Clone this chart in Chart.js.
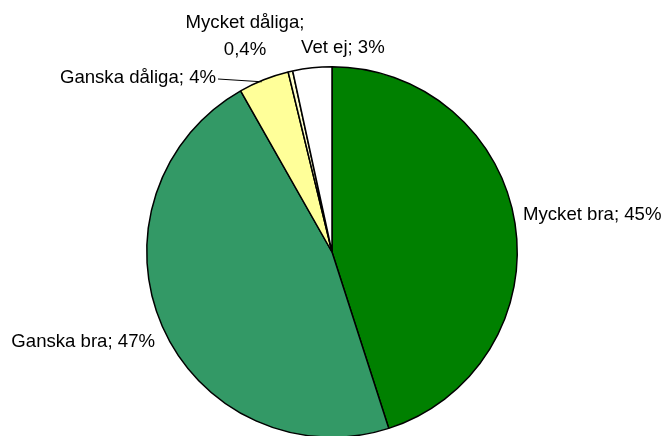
<!DOCTYPE html>
<html>
<head>
<meta charset="utf-8">
<script src="https://cdn.jsdelivr.net/npm/chart.js@4/dist/chart.umd.min.js"></script>
<style>
html,body{margin:0;padding:0;background:#fff;overflow:hidden;}
#wrap{position:relative;width:667px;height:440px;}
</style>
</head>
<body>
<div id="wrap"><canvas id="c" width="667" height="440"></canvas></div>
<script>
const categories = ["Mycket bra", "Ganska bra", "Ganska dåliga", "Mycket dåliga", "Vet ej"];
const values = [45, 46.7, 4.4, 0.4, 3.4];
const colors = ["#008000", "#339966", "#FFFF99", "#FFFFCC", "#FFFFFF"];

function fmt(v){
  const s = v >= 1 ? String(Math.round(v)) : v.toFixed(1).replace('.', ',');
  return s + '%';
}

// label layout: anchor point, alignment, optional line break, optional leader
const labelLayout = [
  {x: 523, y: 215, align: 'left'},
  {x: 155, y: 342, align: 'right'},
  {x: 216, y: 78, align: 'right', leader: true},
  {x: 245, y: 23, align: 'center', split: true, dy: 27},
  {x: 301, y: 48, align: 'left'}
];

const labelPlugin = {
  id: 'pieLabels',
  afterDatasetsDraw(chart){
    const ctx = chart.ctx;
    const meta = chart.getDatasetMeta(0);
    ctx.save();
    ctx.font = '18.6px "Liberation Sans", Arial, sans-serif';
    ctx.fillStyle = '#000';
    ctx.textBaseline = 'middle';
    categories.forEach((name, i) => {
      const L = labelLayout[i];
      ctx.textAlign = L.align;
      if (L.split){
        ctx.fillText(name + ';', L.x, L.y);
        ctx.fillText(fmt(values[i]), L.x, L.y + L.dy);
      } else {
        ctx.fillText(name + '; ' + fmt(values[i]), L.x, L.y);
      }
      if (L.leader){
        const arc = meta.data[i];
        const mid = (arc.startAngle + arc.endAngle) / 2;
        const ex = arc.x + Math.cos(mid) * arc.outerRadius;
        const ey = arc.y + Math.sin(mid) * arc.outerRadius;
        ctx.beginPath();
        ctx.lineWidth = 1;
        ctx.strokeStyle = '#000';
        ctx.moveTo(L.x + 2, L.y + 1);
        ctx.lineTo(ex - 2, ey + 2);
        ctx.stroke();
      }
    });
    ctx.restore();
  }
};

new Chart(document.getElementById('c'), {
  type: 'pie',
  data: {
    labels: categories,
    datasets: [{
      data: values,
      backgroundColor: colors,
      borderColor: '#000',
      borderWidth: 1.5,
      hoverOffset: 0
    }]
  },
  options: {
    responsive: false,
    animation: false,
    devicePixelRatio: 1,
    layout: {padding: {top: 66, bottom: 2, left: 146, right: 149}},
    plugins: {
      legend: {display: false},
      tooltip: {enabled: false}
    }
  },
  plugins: [labelPlugin]
});
</script>
</body>
</html>
